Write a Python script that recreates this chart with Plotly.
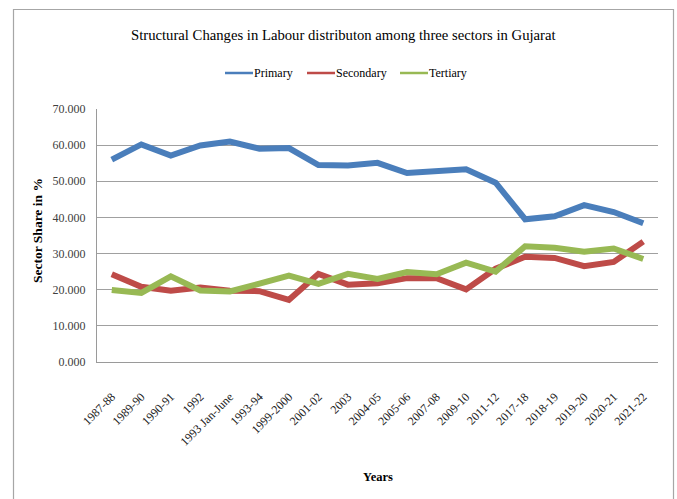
import plotly.graph_objects as go

years = ["1987-88", "1989-90", "1990-91", "1992", "1993 Jan-June", "1993-94",
         "1999-2000", "2001-02", "2003", "2004-05", "2005-06", "2007-08",
         "2009-10", "2011-12", "2017-18", "2018-19", "2019-20", "2020-21", "2021-22"]
primary = [56.0, 60.2, 57.1, 59.9, 61.0, 59.0, 59.2, 54.5, 54.4, 55.1, 52.3, 53.0,
           53.3, 49.6, 39.5, 40.3, 43.4, 41.5, 38.4]
secondary = [24.3, 20.8, 19.7, 20.6, 19.7, 19.6, 17.2, 24.4, 21.4, 21.8, 23.2, 23.2,
             20.1, 25.8, 29.1, 28.8, 26.5, 27.7, 33.3]
tertiary = [19.9, 19.1, 23.7, 19.8, 19.5, 21.5, 23.9, 21.6, 24.4, 23.0, 24.9, 24.3,
            27.5, 25.0, 32.0, 31.6, 30.5, 31.4, 28.5]

series_names = ["Primary", "Secondary", "Tertiary"]
series_values = [primary, secondary, tertiary]
series_colors = ["#4A7EBB", "#BE4B48", "#98B954"]

FONT = "Liberation Serif"
W, H = 677, 499
L, R, T, B = 97, 19, 109, 137
pw, ph = W - L - R, H - T - B

def px(x):
    return (x - L) / pw

def py(y):
    return (H - B - y) / ph

fig = go.Figure()
for name, vals, col in zip(series_names, series_values, series_colors):
    fig.add_trace(go.Scatter(x=years, y=vals, name=name, mode="lines",
                             line=dict(color=col, width=6), showlegend=False))

# manual legend (positions in pixels)
legend_line_x = [225, 307, 400]
legend_y = 73
shapes = []
annotations = []
for name, col, lx in zip(series_names, series_colors, legend_line_x):
    shapes.append(dict(type="line", xref="paper", yref="paper",
                       x0=px(lx), x1=px(lx + 28), y0=py(legend_y), y1=py(legend_y),
                       line=dict(color=col, width=2.5)))
    annotations.append(dict(text=name, x=px(lx + 27), y=py(legend_y), xref="paper",
                            yref="paper", showarrow=False, xanchor="left", yanchor="middle",
                            font=dict(family=FONT, size=12, color="#000000")))

shapes.append(dict(type="path", xref="paper", yref="paper",
                   path=f"M {px(13.5)} {py(520)} L {px(13.5)} {py(9.5)} L {px(673.5)} {py(9.5)} L {px(673.5)} {py(520)}",
                   line=dict(color="#a6a6a6", width=1.2)))

annotations += [
    dict(text="Structural Changes in Labour distributon among three sectors in Gujarat",
         x=px(343), y=py(35), xref="paper", yref="paper", showarrow=False,
         xanchor="center", yanchor="middle",
         font=dict(family=FONT, size=14.7, color="#000000")),
    dict(text="<b>Sector Share in %</b>", x=px(37), y=py(231), xref="paper", yref="paper",
         showarrow=False, textangle=-90, xanchor="center", yanchor="middle",
         font=dict(family=FONT, size=13.5, color="#000000")),
    dict(text="<b>Years</b>", x=px(378), y=py(477), xref="paper", yref="paper",
         showarrow=False, xanchor="center", yanchor="middle",
         font=dict(family=FONT, size=12.5, color="#000000")),
]

fig.update_layout(
    width=W, height=H,
    margin=dict(l=L, r=R, t=T, b=B),
    paper_bgcolor="white", plot_bgcolor="white",
    font=dict(family=FONT, size=12, color="#404040"),
    showlegend=False,
    xaxis=dict(type="category", range=[-0.5, len(years) - 0.5], tickangle=-45,
               showgrid=False, showline=True, linecolor="#9a9a9a", linewidth=1,
               ticks="", ticklabelstandoff=22,
               tickfont=dict(family=FONT, size=12, color="#1a1a1a"),
               zeroline=False),
    yaxis=dict(range=[0, 70], dtick=10, tickformat=".3f", showgrid=True,
               gridcolor="#a0a0a0", gridwidth=1, showline=True, linecolor="#9a9a9a",
               linewidth=1, ticks="", zeroline=False, ticklabelstandoff=8,
               tickfont=dict(family=FONT, size=12, color="#404040")),
    annotations=annotations,
    shapes=shapes,
)

fig.write_html("out.html")
